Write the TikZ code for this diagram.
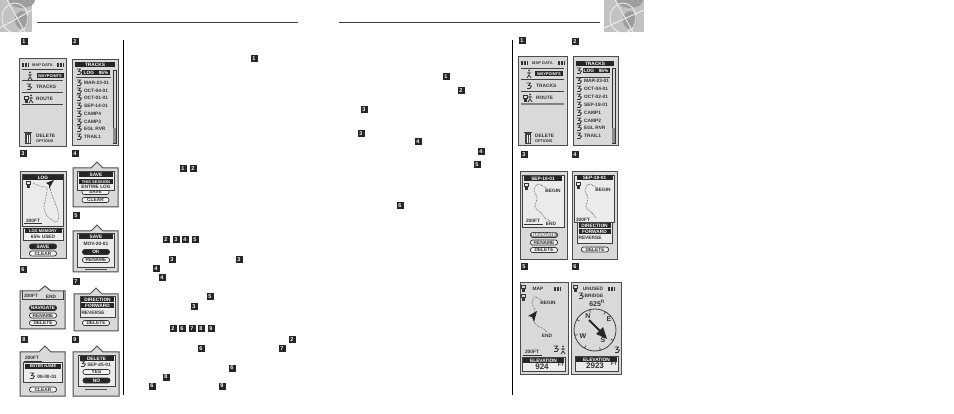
\documentclass[tikz,border=0pt]{standalone}
\usepackage{fontspec}
\setmainfont{Liberation Sans}
\tikzset{
 screen/.style={draw=black!70,line width=1pt,fill=black!15},
 inbox/.style={draw=black!75,line width=.8pt,fill=black!8},
 lbl/.style={font=\bfseries\fontsize{4.8}{5}\selectfont,inner sep=0,text=black!80},
 tightlbl/.style={font=\bfseries\fontsize{4}{5}\selectfont},
 barlbl/.style={lbl,fill=black!85,text=white,minimum height=5pt},
 pillbtn/.style={lbl,draw=black!80,line width=.7pt,fill=black!5,rounded corners=2.2pt,minimum width=27pt,minimum height=5pt},
 pilldark/.style={pillbtn,fill=black!85,text=white},
 numtag/.style={fill=black!85,text=white,font=\bfseries\fontsize{5.5}{5.5}\selectfont,minimum size=7pt,inner sep=0},
 tracklog/.style={densely dotted,black!75,line width=.6pt},
 rule/.style={black!75,line width=1pt}
}
\newcommand{\trackicon}[2]{\draw[black!80,line width=.8pt] (#1-2.5,#2-3)--++(4,0)--++(-2,2.5)--++(3,.5)--++(-1.5,2.5)--++(-3,0);}
\newcommand{\trashicon}[2]{\fill[black!75] (#1-3,#2-5) rectangle (#1+3,#2+6);\draw[black!75,line width=.8pt] (#1-4,#2-6)--(#1+4,#2-6);\draw[white,line width=.4pt] (#1-1,#2-3)--(#1-1,#2+5) (#1+1,#2-3)--(#1+1,#2+5);}
\newcommand{\manicon}[2]{\fill[black!80] (#1,#2-3.5) circle (1);\draw[black!80,line width=.8pt] (#1,#2-2)--(#1,#2+1)--(#1-2,#2+4) (#1,#2+1)--(#1+2,#2+4) (#1-2,#2-1)--(#1+2,#2-1);}
\newcommand{\mapmark}[2]{\draw[black!80,line width=.6pt] (#1-2,#2-3)--(#1+2,#2-3)--(#1+2,#2+1) (#1-2,#2-3)--(#1-2,#2+1);\fill[black!80] (#1-1.5,#2) rectangle (#1+1.5,#2+4);}
\newcommand{\bars}[2]{\foreach \k in {0,1.5,3,4.5,6}{\draw[black!80,line width=.8pt] (#1+\k,#2+2)--++(0,-4);}}
\newcommand{\globeicon}[3]{
 \fill[black!24] (#1,0) rectangle (#2,32);
 \fill[black!38] (#3+6,0) ellipse (13 and 8);
 \fill[black!38] (#3+6,20) ellipse (7 and 9);
 \draw[black!5,line width=.8pt] (#3-1,18) ellipse (13 and 15);
 \draw[black!5,line width=.8pt] (#1,28)--(#2,10) (#3-9,0)--(#3+9,32);
}
\begin{document}
\begin{tikzpicture}[x=1pt,y=-1pt]
\useasboundingbox (0,0) rectangle (954,414);
\fill[white] (0,0) rectangle (954,414);

\globeicon{0}{32}{16}
\globeicon{604}{644}{624}
\draw[rule] (37,23)--(298,23);
\draw[rule] (339,23)--(600,23);
\draw[black,line width=1pt] (123.5,40)--(123.5,395);
\draw[black,line width=1pt] (512.5,40)--(512.5,395);

\foreach \tx/\ty/\d in {24/42/1,75/42/2,23/154/3,75/154/4,76/216/5,23/270/6,76/282/7,24/340/8,75/340/9,
 522/41/1,575/42/2,524/155/3,575/155/4,524/267/5,575/267/6,
 254/59/1,183/169/1,193/169/2,166/240/2,176/240/3,185/240/4,195/240/5,172/260/3,239/260/3,156/269/4,162/278/4,
 210/297/5,194/307/3,173/329/2,182/329/6,192/329/7,201/329/8,211/329/9,292/340/2,201/349/6,282/349/7,232/368/6,
 166/377/8,152/386/6,222/386/9,
 446/77/1,461/91/2,364/110/3,361/134/3,418/142/4,481/152/4,477/165/5,400/206/6} {
 \node[numtag] (tag\tx-\ty) at (\tx,\ty) {\d};
}

% left page, screen 1
\draw[screen] (19,59) rectangle (66,147);
\node[lbl,tightlbl] (mapA) at (42.5,65) {MAP DATA};
\bars{22}{65}
\bars{57}{65}
\draw[rule] (22,70)--(63,70);
\manicon{30}{76}
\node[barlbl,tightlbl,minimum width=27pt] (wptA) at (50,76) {WAYPOINTS};
\draw[rule] (22,80.5)--(63,80.5);
\trackicon{29}{87}
\node[lbl,anchor=west] (trkA) at (36,87) {TRACKS};
\draw[rule] (22,93)--(63,93);
\mapmark{26}{99}
\manicon{31}{99}
\node[lbl,anchor=west] (rteA) at (36,99) {ROUTE};
\draw[rule] (22,105)--(63,105);
\trashicon{28}{138}
\node[lbl,anchor=west] (delA) at (36,136) {DELETE};
\node[lbl,anchor=west,scale=.8] (optA) at (36,141) {OPTIONS};

% left page, screen 2
\draw[screen] (72,60) rectangle (118,146);
\node[barlbl,minimum width=40pt] (hdrB) at (95,65) {TRACKS};
\trackicon{79}{72}
\node[barlbl,minimum width=28pt] (logB) at (96,72.5) {LOG\quad 86\%};
\draw[rule] (76,78)--(111,78);
\foreach \ly/\lname in {83/MAR-23-01,91/OCT-04-01,98/OCT-01-01,106/SEP-14-01,114/CAMP4,122/CAMP3,129/EGL RVR,137/TRAIL1} {
 \trackicon{79}{\ly}
 \node[lbl,anchor=west] (rowB\ly) at (84,\ly) {\lname};
}
\draw[black!80,line width=.7pt] (113,70) rectangle (116,143);
\fill[black!45] (113,128) rectangle (116,143);

% left page, screen 3
\draw[screen] (20,172) rectangle (66,259);
\draw[inbox] (22.5,174.5) rectangle (63.5,226);
\node[barlbl,minimum width=40pt] (hdrC) at (43,178) {LOG};
\mapmark{28}{184}
\draw[tracklog] plot[smooth] coordinates {(33,183)(40,186)(47,188)(46,197)(44,207)(47,216)(56,222)(59,216)(56,205)(52,195)(50,188)};
\fill[black!85] (54,180)--(46,183)--(49,185)--(49,189)--cycle;
\node[lbl] (sclC) at (33,221) {200FT};
\draw[black!80,line width=.5pt] (24,223.5)--(42,223.5);
\draw[inbox,fill=black!5] (23,228) rectangle (63,240);
\node[barlbl,tightlbl,minimum width=37pt] (memC) at (43,231) {LOG MEMORY};
\node[lbl] (useC) at (43,236.5) {65\% USED};
\node[pilldark] (saveC) at (43,246.5) {SAVE};
\node[pillbtn] (clrC) at (43,253.5) {CLEAR};

% left page, screen 4
\draw[screen] (73,207)--(73,168)--(91,168)--(97,162)--(103,168)--(118,168)--(118,207)--cycle;
\node[pillbtn] (saveD) at (95.5,192) {SAVE};
\node[pillbtn] (clrD) at (95.5,200) {CLEAR};
\draw[inbox] (77.5,171.5) rectangle (114.5,190);
\node[barlbl,minimum width=34pt] (hdrD) at (96,175) {SAVE};
\node[barlbl,tightlbl,minimum width=34pt] (sesD) at (96,182) {THIS SESSION};
\node[lbl] (entD) at (96,187) {ENTIRE LOG};

% left page, screen 5
\draw[screen] (73,272)--(73,231)--(91,231)--(97,225)--(103,231)--(118,231)--(118,272)--cycle;
\draw[inbox] (77.5,233.5) rectangle (114.5,267);
\node[barlbl,minimum width=34pt] (hdrE) at (96,236.5) {SAVE};
\node[lbl] (datE) at (96,244) {MOV-20-01};
\node[pilldark] (okE) at (96,252) {OK};
\node[pillbtn] (renE) at (96,260) {RENAME};
\draw[black!70,line width=1pt] (85,269.5)--(107,269.5);

% left page, screen 6
\draw[screen] (20,329)--(20,291)--(39,291)--(45,286)--(51,291)--(65,291)--(65,329)--cycle;
\draw[black!75,line width=.8pt] (22,291)--(22,299.5)--(63,299.5)--(63,291);
\node[lbl] (sclF) at (31,296) {200FT};
\node[lbl] (endF) at (51,297) {END};
\node[pilldark] (navF) at (43,308) {NAVIGATE};
\node[pillbtn] (renF) at (43,315.5) {RENAME};
\node[pillbtn] (delF) at (43,323) {DELETE};

% left page, screen 7
\draw[screen] (74,331)--(74,294)--(90,294)--(96,288)--(102,294)--(118,294)--(118,331)--cycle;
\node[pillbtn] (delG) at (96,323) {DELETE};
\draw[inbox] (80,296.5) rectangle (115,317);
\node[barlbl,minimum width=33pt] (hdrG) at (97.5,300) {DIRECTION};
\node[barlbl,minimum width=33pt] (fwdG) at (97.5,306) {FORWARD};
\node[lbl] (revG) at (93,313) {REVERSE};

% left page, screen 8
\draw[screen] (20,396)--(20,352)--(39,352)--(45,346)--(51,352)--(65,352)--(65,396)--cycle;
\node[lbl] (sclH) at (32,358) {200FT};
\draw[black!80,line width=.5pt] (24,361)--(42,361);
\node[pillbtn] (clrH) at (43,389.5) {CLEAR};
\draw[inbox] (23.5,362.5) rectangle (62,382);
\node[barlbl,tightlbl,minimum width=36pt] (hdrH) at (43,366.5) {ENTER NAME};
\trackicon{32}{376}
\node[lbl] (datH) at (47,376.5) {08-00-01};

% left page, screen 9
\draw[screen] (73,396)--(73,352)--(91,352)--(97,346)--(103,352)--(119,352)--(119,396)--cycle;
\draw[black!70,line width=1pt] (85,389)--(107,389);
\draw[inbox] (78,355) rectangle (115,386);
\node[barlbl,minimum width=34pt] (hdrI) at (96.5,358.5) {DELETE};
\trackicon{83}{364}
\node[lbl] (datI) at (99,364.5) {SEP-25-01};
\node[pillbtn] (yesI) at (96.5,372) {YES};
\node[pilldark] (noI) at (96.5,380.5) {NO};

% right page, screen 1
\draw[screen] (518,57) rectangle (567,146);
\node[lbl,tightlbl] (mapJ) at (542.5,63) {MAP DATA};
\bars{521}{63}
\bars{558}{63}
\draw[rule] (521,68.5)--(564,68.5);
\manicon{529}{74}
\node[barlbl,tightlbl,minimum width=28pt] (wptJ) at (549,74) {WAYPOINTS};
\draw[rule] (521,80)--(564,80);
\trackicon{529}{86}
\node[lbl,anchor=west] (trkJ) at (536,86) {TRACKS};
\draw[rule] (521,92)--(564,92);
\mapmark{525}{98}
\manicon{530}{98}
\node[lbl,anchor=west] (rteJ) at (536,98) {ROUTE};
\draw[black!50,line width=1.5pt] (521,104)--(564,104);
\trashicon{528}{138}
\node[lbl,anchor=west] (delJ) at (535,136) {DELETE};
\node[lbl,anchor=west,scale=.8] (optJ) at (535,141) {OPTIONS};

% right page, screen 2
\draw[screen] (573,57) rectangle (618,146);
\node[barlbl,minimum width=38pt] (hdrK) at (595,64) {TRACKS};
\trackicon{579}{71}
\node[barlbl,minimum width=27pt] (logK) at (596,71) {LOG\quad 86\%};
\draw[rule] (576,77.5)--(610,77.5);
\foreach \ly/\lname in {81/MAR-23-01,89/OCT-04-01,97/OCT-02-01,105/SEP-18-01,113/CAMP1,121/CAMP2,128/EGL RVR,136/TRAIL1} {
 \trackicon{579}{\ly}
 \node[lbl,anchor=west] (rowK\ly) at (584,\ly) {\lname};
}
\draw[black!80,line width=.7pt] (612,68) rectangle (615,143);
\fill[black!45] (612,128) rectangle (615,143);

% right page, screen 3
\draw[screen] (520,172) rectangle (567,260);
\draw[inbox] (522.5,175) rectangle (564,227);
\node[barlbl,minimum width=38pt] (hdrL) at (543,179) {SEP-18-01};
\mapmark{526}{186}
\draw[tracklog] plot[smooth] coordinates {(546,188)(538,184)(534,190)(537,198)(535,207)(540,212)(545,218)(551,221)};
\node[lbl] (bgnL) at (553,191) {BEGIN};
\node[lbl] (sclL) at (533,221) {200FT};
\draw[black!80,line width=.5pt] (524,224)--(543,224);
\node[lbl] (endL) at (551,224) {END};
\node[pilldark,fill=black!45] (navL) at (544,235) {NAVIGATE};
\node[pillbtn] (renL) at (544,242.5) {RENAME};
\node[pillbtn] (delL) at (544,250) {DELETE};

% right page, screen 4
\draw[screen] (572,172) rectangle (617,260);
\draw[inbox] (574.5,175) rectangle (614.5,222);
\node[barlbl,minimum width=36pt] (hdrM) at (594.5,178) {SEP-18-01};
\mapmark{578}{185}
\draw[tracklog] plot[smooth] coordinates {(597,188)(589,184)(585,190)(588,198)(586,207)(591,212)(596,218)};
\node[lbl] (bgnM) at (603,190) {BEGIN};
\node[lbl] (sclM) at (583,220) {200FT};
\node[pillbtn] (delM) at (595,249.5) {DELETE};
\draw[inbox] (577,222) rectangle (612,243);
\node[barlbl,minimum width=32pt] (hdrN) at (594.5,226) {DIRECTION};
\node[barlbl,minimum width=32pt] (fwdN) at (594.5,232) {FORWARD};
\node[lbl] (revN) at (590,238) {REVERSE};

% right page, screen 5
\draw[screen] (520,283) rectangle (568,374);
\mapmark{523}{288}
\node[lbl] (mapO) at (538,289) {MAP};
\bars{554}{289}
\mapmark{523}{297}
\node[lbl] (bgnO) at (548,303) {BEGIN};
\draw[tracklog] plot[smooth] coordinates {(541,300)(535,297)(532,303)(535,310)(533,317)(536,325)(542,328)(547,332)};
\fill[black!85] (537,311)--(528,316)--(532,317)--(534,322)--cycle;
\node[lbl] (endO) at (547,336) {END};
\node[lbl] (sclO) at (532,352) {200FT};
\draw[black!80,line width=.5pt] (523,355)--(542,355);
\trackicon{556}{349}
\manicon{563}{350}
\draw[inbox] (522,357) rectangle (565,371);
\node[barlbl,minimum width=41pt] (hdrO) at (543.5,360.5) {ELEVATION};
\node[lbl,font=\bfseries\fontsize{8}{8}\selectfont] (altO) at (542,367) {924};
\node[lbl] (ftO) at (561,365) {FT};

% right page, screen 6
\draw[screen] (571,283) rectangle (621,374);
\mapmark{575}{288}
\node[lbl] (gpsP) at (593,289) {UNUSED};
\bars{608}{289}
\trackicon{581}{296}
\node[lbl] (brdP) at (594,296) {BRIDGE};
\node[lbl,font=\bfseries\fontsize{7}{7}\selectfont] (dstP) at (597,303) {625\textsuperscript{ft}};
\draw[black!75,line width=.8pt] (595,330) circle (21);
\foreach \a in {30,75,...,340} {
 \draw[black!75,line width=.7pt] (595,330)++(\a:21)--++(\a+180:3);
}
\node[lbl,font=\bfseries\fontsize{7}{7}\selectfont] (nP) at (588,316) {N};
\node[lbl,font=\bfseries\fontsize{7}{7}\selectfont] (eP) at (609,319) {E};
\node[lbl,font=\bfseries\fontsize{7}{7}\selectfont] (wP) at (583,336) {W};
\node[lbl,font=\bfseries\fontsize{7}{7}\selectfont] (sP) at (603,340) {S};
\draw[black!85,line width=2pt] (589,320)--(600,331);
\fill[black!85] (607,339)--(596,334)--(603,327)--cycle;
\trackicon{617}{350}
\draw[inbox] (575,356) rectangle (618,371);
\node[barlbl,minimum width=41pt] (hdrP) at (596.5,359.5) {ELEVATION};
\node[lbl,font=\bfseries\fontsize{8}{8}\selectfont] (altP) at (595,366) {2923};
\node[lbl] (ftP) at (614,364) {FT};
\end{tikzpicture}
\end{document}
